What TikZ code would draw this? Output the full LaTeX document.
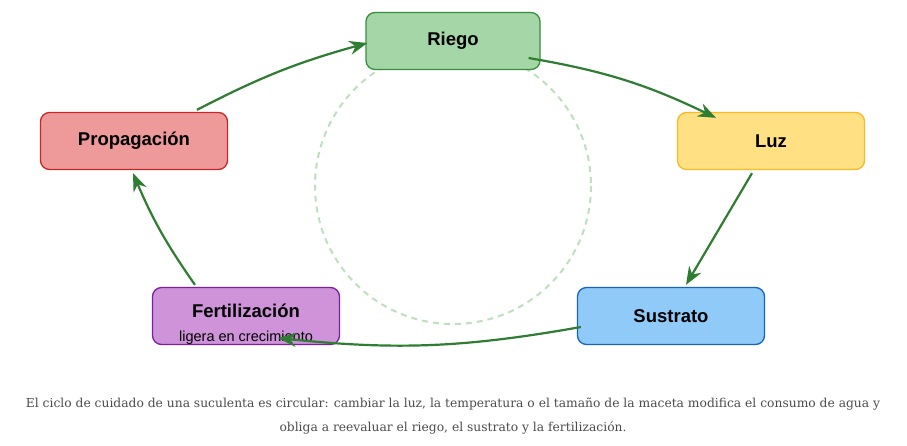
\documentclass[tikz,border=0pt]{standalone}
\usepackage{fontspec}
\setmainfont{Liberation Sans}
\newfontfamily\capfont{DejaVu Serif}
\usetikzlibrary{arrows.meta,calc}
\definecolor{arr}{HTML}{2E7D32}
\begin{document}
\begin{tikzpicture}[x=1pt,y=-1pt,
  box/.style={draw, line width=1.3pt, rounded corners=9pt, minimum width=187pt, minimum height=57pt, inner sep=0pt, font=\bfseries\fontsize{18.5}{20}\selectfont},
  con/.style={draw=arr, line width=2.2pt, -{Stealth[length=18pt,width=14pt]}}]
\useasboundingbox (0,0) rectangle (907,445);
\fill[white] (0,0) rectangle (907,445);
\draw[draw=green!50!black!25, line width=2pt, dash pattern=on 6pt off 5pt] (453,186) circle (138);
\node[box, fill={rgb,255:red,165;green,214;blue,167}, draw={rgb,255:red,56;green,142;blue,60}, minimum width=174pt] (riego) at (453,41) {Riego};
\node[box, fill={rgb,255:red,255;green,224;blue,130}, draw={rgb,255:red,249;green,185;blue,40}] (luz) at (771,141) {Luz};
\node[box, fill={rgb,255:red,144;green,202;blue,249}, draw={rgb,255:red,21;green,101;blue,192}] (sus) at (671,316) {Sustrato};
\node[box, fill={rgb,255:red,206;green,147;blue,216}, draw={rgb,255:red,123;green,31;blue,162}] (fert) at (246,316) {};
\node[font=\bfseries\fontsize{18.5}{20}\selectfont] (ft) at (246,311) {Fertilización};
\node[font=\fontsize{14.5}{16}\selectfont] (fs) at (246,338) {ligera en crecimiento};
\node[box, fill={rgb,255:red,239;green,154;blue,154}, draw={rgb,255:red,198;green,40;blue,40}] (prop) at (134,141) {Propagación};
\draw[con] ($(prop.north)+(63,-2)$) to[bend left=6] ($(riego.west)+(2,2)$);
\draw[con] ($(riego.east)+(-12,17)$) to[bend left=8] ($(luz.north)+(-55,6)$);
\draw[con] ($(luz.south)+(-19,3)$) -- ($(sus.north)+(15,-2)$);
\draw[con] ($(sus.west)+(4,11)$) to[bend left=8] ($(fert.east)+(-62,22)$);
\draw[con] ($(fert.north)+(-51,-2)$) to[bend left=6] ($(prop.south)+(-1,3)$);
\node[font=\capfont\fontsize{12.3}{24}\selectfont, text=black!70, align=center] (cap) at (453,416) {El ciclo de cuidado de una suculenta es circular: cambiar la luz, la temperatura o el tamaño de la maceta modifica el consumo de agua y\\obliga a reevaluar el riego, el sustrato y la fertilización.};
\end{tikzpicture}
\end{document}
